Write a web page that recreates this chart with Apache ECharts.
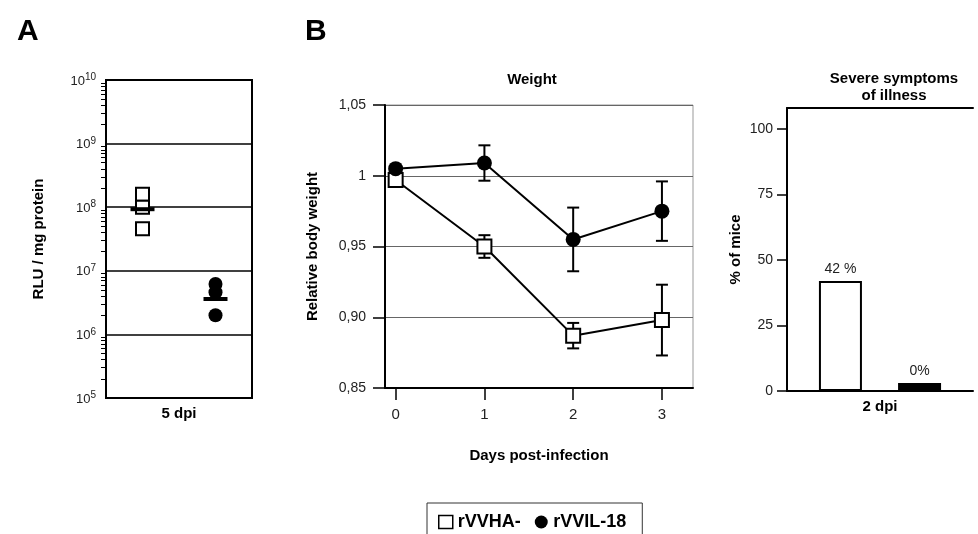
<!DOCTYPE html>
<html>
<head>
<meta charset="utf-8">
<script src="https://cdn.jsdelivr.net/npm/echarts@6/dist/echarts.min.js"></script>
<style>
  html, body { margin: 0; padding: 0; background: #fff; }
  #main { width: 978px; height: 534px; }
</style>
</head>
<body>
<div id="main"></div>
<script>
// panel A : luciferase at 5 dpi
var groupsA = ['rVVHA-', 'rVVIL-18'];
var rluHA = [1.6e8, 1.0e8, 4.6e7];
var rluIL = [6.2e6, 4.6e6, 2.0e6];
var rluMean = [9.3e7, 3.6e6];

// panel B : weight
var days = [0, 1, 2, 3];
var weightHA = [0.997, 0.950, 0.887, 0.898];
var sdHA = [0.002, 0.008, 0.009, 0.025];
var weightIL = [1.005, 1.009, 0.955, 0.975];
var sdIL = [0.002, 0.0125, 0.0225, 0.021];
var weightTicks = [0.85, 0.90, 0.95, 1, 1.05];

// panel C : severe symptoms
var dpiC = ['2 dpi'];
var illHA = [42];
var illIL = [0];
var pctTicks = [0, 25, 50, 75, 100];

var FONT = 'Liberation Sans, Arial, Helvetica, sans-serif';
var myChart = echarts.init(document.getElementById('main'));

// log minor ticks 2..9 x 10^n
var minorLog = [];
for (var e = 5; e < 10; e++) {
    for (var m = 2; m < 10; m++) minorLog.push(m * Math.pow(10, e));
}

function errBars(means, sds) {
    return days.map(function (d, i) { return [d, means[i] - sds[i], means[i] + sds[i]]; });
}

function renderErr(params, api) {
    var x = api.value(0);
    var lo = api.coord([x, api.value(1)]);
    var hi = api.coord([x, api.value(2)]);
    var w = 6;
    var st = { stroke: '#000', lineWidth: 2 };
    return {
        type: 'group',
        children: [
            { type: 'line', shape: { x1: lo[0], y1: lo[1], x2: hi[0], y2: hi[1] }, style: st },
            { type: 'line', shape: { x1: lo[0] - w, y1: lo[1], x2: lo[0] + w, y2: lo[1] }, style: st },
            { type: 'line', shape: { x1: hi[0] - w, y1: hi[1], x2: hi[0] + w, y2: hi[1] }, style: st }
        ]
    };
}

var boldName = { fontFamily: FONT, fontWeight: 'bold', fontSize: 15, color: '#000' };

var option = {
    backgroundColor: '#fff',
    animation: false,
    textStyle: { fontFamily: FONT },
    title: [
        { text: 'A', left: 12, top: 12, textStyle: { fontFamily: FONT, fontSize: 30, fontWeight: 'bold', color: '#000' } },
        { text: 'B', left: 300, top: 12, textStyle: { fontFamily: FONT, fontSize: 30, fontWeight: 'bold', color: '#000' } },
        { text: 'Weight', left: 527, top: 67, textAlign: 'center', textStyle: { fontFamily: FONT, fontSize: 15, fontWeight: 'bold', color: '#000' } },
        { text: 'Severe symptoms\nof illness', left: 889, top: 65, textAlign: 'center',
          textStyle: { fontFamily: FONT, fontSize: 15, fontWeight: 'bold', color: '#000', lineHeight: 17 } }
    ],
    legend: {
        left: 427, top: 503,
        padding: [10, 16, 20, 11],
        borderColor: '#333', borderWidth: 1,
        itemWidth: 14, itemHeight: 13, itemGap: 14,
        textStyle: { fontFamily: FONT, fontSize: 18, fontWeight: 'bold', color: '#000' },
        data: [
            { name: 'rVVHA-', icon: 'rect', itemStyle: { color: '#fff', borderColor: '#000', borderWidth: 1.5, opacity: 1 } },
            { name: 'rVVIL-18', icon: 'circle', itemStyle: { color: '#000', opacity: 1 } }
        ]
    },
    grid: [
        { left: 106, top: 80, width: 146, height: 318, show: true, borderColor: '#000', borderWidth: 2 },
        { left: 385, top: 105, width: 308, height: 283, show: true, borderColor: '#999', borderWidth: 1 },
        { left: 787, top: 108, width: 186, height: 283 }
    ],
    xAxis: [
        { gridIndex: 0, type: 'category', data: groupsA,
          name: '5 dpi', nameLocation: 'middle', nameGap: 8, nameTextStyle: boldName,
          axisLine: { lineStyle: { color: '#000', width: 2 } },
          axisTick: { show: false }, axisLabel: { show: false } },
        { gridIndex: 1, type: 'value', min: -0.12, max: 3.35, interval: 1,
          name: 'Days post-infection', nameLocation: 'middle', nameGap: 60, nameTextStyle: boldName,
          axisLine: { onZero: false, lineStyle: { color: '#000', width: 2 } },
          axisTick: { length: 12, lineStyle: { color: '#000', width: 1.5 }, customValues: days },
          axisLabel: { margin: 19, fontSize: 15, color: '#222', customValues: days },
          splitLine: { show: false } },
        { gridIndex: 2, type: 'category', data: dpiC,
          name: '2 dpi', nameLocation: 'middle', nameGap: 8, nameTextStyle: boldName,
          axisLine: { lineStyle: { color: '#000', width: 2 } },
          axisTick: { show: false }, axisLabel: { show: false } },
        { gridIndex: 2, type: 'category', data: dpiC, position: 'top',
          axisLine: { lineStyle: { color: '#000', width: 2 } },
          axisTick: { show: false }, axisLabel: { show: false } }
    ],
    yAxis: [
        { gridIndex: 0, type: 'log', logBase: 10, min: 1e5, max: 1e10,
          name: 'RLU / mg protein', nameLocation: 'middle', nameGap: 60, nameTextStyle: boldName,
          axisLine: { onZero: false, lineStyle: { color: '#000', width: 2 } },
          axisTick: { length: 9, lineStyle: { color: '#000', width: 1.5 } },
          axisLabel: {
              margin: 10, color: '#222',
              formatter: function (v) { return '{b|10}{s|' + Math.round(Math.log10(v)) + '}'; },
              rich: {
                  b: { fontSize: 13, fontFamily: FONT, color: '#222', lineHeight: 15, verticalAlign: 'bottom' },
                  s: { fontSize: 10, fontFamily: FONT, color: '#222', lineHeight: 15, verticalAlign: 'top' }
              }
          },
          splitLine: { lineStyle: { color: '#000', width: 1.5 } } },
        { gridIndex: 1, type: 'value', min: 0.85, max: 1.05, interval: 0.05,
          name: 'Relative body weight', nameLocation: 'middle', nameGap: 65, nameTextStyle: boldName,
          axisLine: { show: true, onZero: false, lineStyle: { color: '#000', width: 2 } },
          axisTick: { show: true, length: 12, lineStyle: { color: '#000', width: 1.5 }, customValues: weightTicks },
          axisLabel: { margin: 19, fontSize: 14, color: '#222', customValues: weightTicks,
              formatter: function (v) { return Math.abs(v - 1) < 1e-9 ? '1' : v.toFixed(2).replace('.', ','); } },
          splitLine: { lineStyle: { color: '#666', width: 1 } } },
        { gridIndex: 2, type: 'value', min: 0, max: 108,
          name: '% of mice', nameLocation: 'middle', nameGap: 44, nameTextStyle: boldName,
          axisLine: { show: true, onZero: false, lineStyle: { color: '#000', width: 2 } },
          axisTick: { show: true, length: 10, lineStyle: { color: '#000', width: 1.5 }, customValues: pctTicks },
          axisLabel: { margin: 14, fontSize: 14, color: '#222', customValues: pctTicks },
          splitLine: { show: false } },
        // minor log ticks for panel A
        { gridIndex: 0, type: 'log', logBase: 10, min: 1e5, max: 1e10, position: 'left',
          axisLine: { show: false },
          axisTick: { show: true, length: 5, lineStyle: { color: '#000', width: 1 }, customValues: minorLog },
          axisLabel: { show: false }, splitLine: { show: false } }
    ],
    series: [
        // panel A
        { name: 'rVVHA-', type: 'scatter', xAxisIndex: 0, yAxisIndex: 0,
          symbol: 'rect', symbolSize: 13,
          itemStyle: { color: '#fff', borderColor: '#000', borderWidth: 2, opacity: 1 },
          data: rluHA.map(function (v) { return [0, v]; }) },
        { name: 'rVVIL-18', type: 'scatter', xAxisIndex: 0, yAxisIndex: 0,
          symbol: 'circle', symbolSize: 14, itemStyle: { color: '#000', opacity: 1 },
          data: rluIL.map(function (v) { return [1, v]; }) },
        { name: 'mean', type: 'scatter', xAxisIndex: 0, yAxisIndex: 0, z: 5,
          symbol: 'rect', symbolSize: [24, 4], itemStyle: { color: '#000', opacity: 1 },
          data: rluMean.map(function (v, i) { return [i, v]; }) },
        // panel B
        { name: 'errHA', type: 'custom', xAxisIndex: 1, yAxisIndex: 1, z: 1,
          renderItem: renderErr, data: errBars(weightHA, sdHA) },
        { name: 'errIL', type: 'custom', xAxisIndex: 1, yAxisIndex: 1, z: 1,
          renderItem: renderErr, data: errBars(weightIL, sdIL) },
        { name: 'rVVHA-', type: 'line', xAxisIndex: 1, yAxisIndex: 1, z: 3,
          symbol: 'rect', symbolSize: 14,
          itemStyle: { color: '#fff', borderColor: '#000', borderWidth: 2 },
          lineStyle: { color: '#000', width: 2 },
          data: days.map(function (d, i) { return [d, weightHA[i]]; }) },
        { name: 'rVVIL-18', type: 'line', xAxisIndex: 1, yAxisIndex: 1, z: 3,
          symbol: 'circle', symbolSize: 15, itemStyle: { color: '#000' },
          lineStyle: { color: '#000', width: 2 },
          data: days.map(function (d, i) { return [d, weightIL[i]]; }) },
        // panel C
        { name: 'rVVHA-', type: 'bar', xAxisIndex: 2, yAxisIndex: 2,
          barWidth: 43, barGap: '84%',
          itemStyle: { color: '#fff', borderColor: '#000', borderWidth: 2 },
          label: { show: true, position: 'top', formatter: '{c} %', fontSize: 14, color: '#222' },
          data: illHA },
        { name: 'rVVIL-18', type: 'bar', xAxisIndex: 2, yAxisIndex: 2,
          barWidth: 43, barMinHeight: 8,
          itemStyle: { color: '#000' },
          label: { show: true, position: 'top', formatter: '{c}%', fontSize: 14, color: '#222' },
          data: illIL }
    ]
};
myChart.setOption(option);
</script>
</body>
</html>
